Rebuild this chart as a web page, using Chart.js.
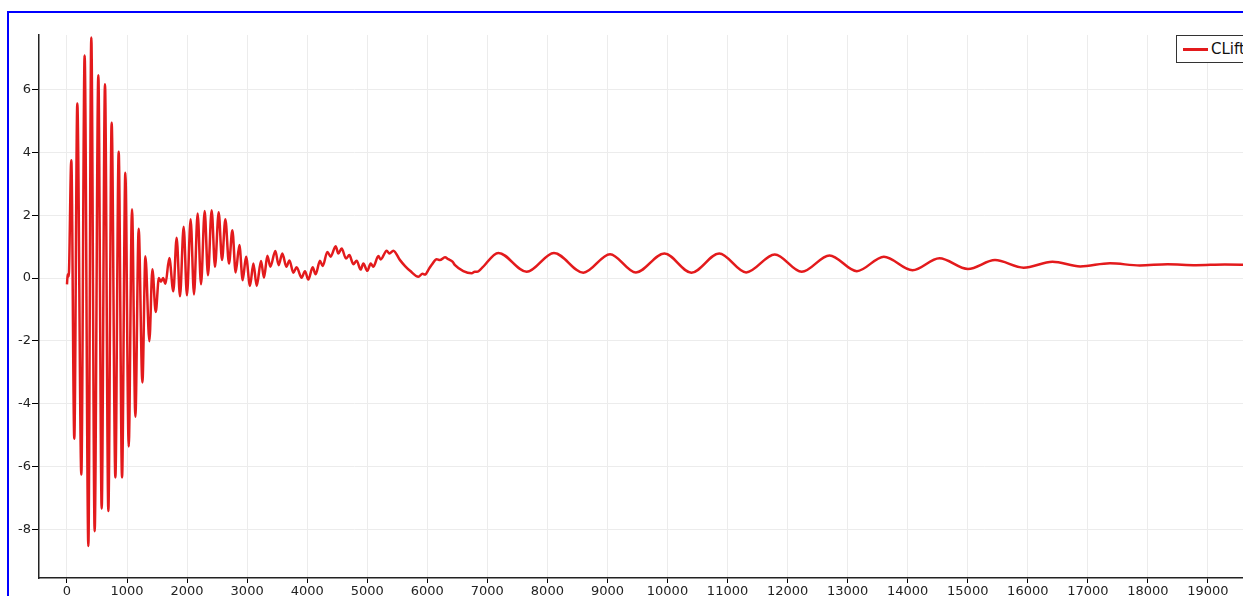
<!DOCTYPE html>
<html>
<head>
    <title>CLift</title>
    <script src="https://cdn.jsdelivr.net/npm/chart.js"></script>
    <style>
        body {
            margin: 0;
            background: #fff;
            overflow: hidden;
        }
        #frame {
            position: absolute;
            left: 7px;
            top: 11px;
            width: 1300px;
            height: 620px;
            border-left: 2px solid #0000ff;
            border-top: 2px solid #0000ff;
        }
        #wrap {
            position: absolute;
            left: 0;
            top: 0;
        }
        #legend {
            position: absolute;
            left: 1176px;
            top: 35px;
            width: 90px;
            height: 26px;
            border: 1px solid #333;
            background: #fff;
            font-family: "DejaVu Sans", sans-serif;
            font-size: 15px;
            color: #111;
        }
        #legend span.swatch {
            position: absolute;
            left: 6px;
            top: 12px;
            width: 25px;
            height: 3px;
            background: #e31a1c;
        }
        #legend span.label {
            position: absolute;
            left: 34px;
            top: 4px;
        }
    </style>
</head>
<body>
    <div id="frame"></div>
    <div id="wrap">
        <canvas id="clift" width="1300" height="620"></canvas>
    </div>
    <div id="legend"><span class="swatch"></span><span class="label">CLift</span></div>

    <script>
    // time step values and lift coefficient (peaks/troughs)
    const steps = [
        0, 12, 28, 72, 122, 172, 239, 294, 356, 405, 461, 522, 578, 633, 689, 744, 806, 861, 917, 972,
        1028, 1083, 1139, 1194, 1256, 1306, 1372, 1422, 1478, 1530, 1565, 1600, 1640, 1704, 1771, 1826,
        1882, 1943, 1998, 2059, 2115, 2176, 2232, 2293, 2348, 2409, 2465, 2526, 2582, 2637, 2698, 2754,
        2809, 2871, 2926, 2982, 3048, 3104, 3159, 3231, 3281, 3337, 3387, 3470, 3525, 3586, 3653, 3705,
        3769, 3824, 3908, 3963, 4019, 4091, 4141, 4213, 4258, 4336, 4391, 4474, 4519, 4574, 4646, 4702,
        4768, 4824, 4890, 4935, 5002, 5057, 5102, 5185, 5224, 5324, 5369, 5435, 5546, 5630, 5713, 5852,
        5920, 5960, 6030, 6074, 6156, 6210, 6295, 6350, 6420, 6462, 6600, 6739, 6790, 6830, 6900, 7183,
        7655, 8110, 8598, 9043, 9474, 9948, 10398, 10861, 11310, 11787, 12235, 12698, 13154, 13604,
        14080, 14528, 15004, 15454, 15930, 16411, 16874, 17369, 17865, 18328, 18800, 19280, 19700
    ];
    const clift = [
        -0.2, 0.12, 0.05, 3.75, -5.11, 5.55, -6.25, 7.08, -8.52, 7.65, -8.05, 6.45, -7.33, 6.16, -7.41, 4.94, -6.34, 4.02, -6.34, 3.35,
        -5.36, 2.19, -4.41, 1.57, -3.32, 0.69, -2.01, 0.28, -1.08, 0.0, -0.12, 0.0, -0.18, 0.64, -0.42, 1.28,
        -0.58, 1.63, -0.55, 1.87, -0.52, 2.05, -0.2, 2.13, 0.09, 2.16, 0.36, 2.09, 0.57, 1.87, 0.46, 1.52,
        0.18, 1.05, -0.07, 0.68, -0.25, 0.46, -0.25, 0.54, 0.01, 0.71, 0.36, 0.86, 0.41, 0.78, 0.36, 0.56,
        0.17, 0.34, 0.01, 0.22, -0.05, 0.34, 0.12, 0.55, 0.38, 0.83, 0.68, 1.01, 0.78, 0.94, 0.62, 0.73,
        0.44, 0.55, 0.27, 0.46, 0.23, 0.46, 0.36, 0.7, 0.59, 0.87, 0.78, 0.87, 0.57, 0.38, 0.23, 0.04,
        0.14, 0.11, 0.3, 0.42, 0.6, 0.57, 0.66, 0.6, 0.52, 0.41, 0.22, 0.15, 0.2, 0.2, 0.3, 0.8,
        0.2, 0.8, 0.17, 0.76, 0.18, 0.78, 0.17, 0.78, 0.18, 0.75, 0.2, 0.72, 0.22, 0.68,
        0.25, 0.63, 0.29, 0.57, 0.33, 0.52, 0.37, 0.47, 0.4, 0.44, 0.41, 0.43, 0.42
    ];
    const xTicks = [0, 1000, 2000, 3000, 4000, 5000, 6000, 7000, 8000, 9000, 10000,
        11000, 12000, 13000, 14000, 15000, 16000, 17000, 18000, 19000];
    const yTicks = [-8, -6, -4, -2, 0, 2, 4, 6];

    const points = steps.map((s, i) => ({ x: s, y: clift[i] }));

    let ctx = document.getElementById('clift').getContext('2d');
    new Chart(ctx, {
        type: 'line',
        data: {
            datasets: [{
                label: 'CLift',
                data: points,
                borderColor: '#e31a1c',
                borderWidth: 2.5,
                pointRadius: 0,
                fill: false,
                tension: 0.4,
                cubicInterpolationMode: 'monotone'
            }]
        },
        options: {
            responsive: false,
            animation: false,
            devicePixelRatio: 1,
            layout: {
                padding: { left: 0, top: 35, right: 0, bottom: 0 }
            },
            plugins: {
                legend: { display: false },
                tooltip: { enabled: false }
            },
            scales: {
                x: {
                    type: 'linear',
                    min: -466,
                    max: 20533,
                    afterBuildTicks: axis => { axis.ticks = xTicks.map(v => ({ value: v })); },
                    afterFit: axis => { axis.height = 42; },
                    grid: {
                        color: '#ececec',
                        tickColor: '#000',
                        tickLength: 5
                    },
                    border: { color: '#222', width: 1.5 },
                    ticks: {
                        padding: 1,
                        maxRotation: 0,
                        autoSkip: false,
                        color: '#222',
                        font: { family: 'DejaVu Sans', size: 13 },
                        callback: v => String(v)
                    }
                },
                y: {
                    min: -9.54,
                    max: 7.73,
                    afterBuildTicks: axis => { axis.ticks = yTicks.map(v => ({ value: v })); },
                    afterFit: axis => { axis.width = 39; },
                    grid: {
                        color: '#ececec',
                        tickColor: '#000',
                        tickLength: 7
                    },
                    border: { color: '#222', width: 1.5 },
                    ticks: {
                        padding: 1,
                        color: '#222',
                        font: { family: 'DejaVu Sans', size: 13 },
                        callback: v => String(v)
                    }
                }
            }
        }
    });
    </script>
</body>
</html>
